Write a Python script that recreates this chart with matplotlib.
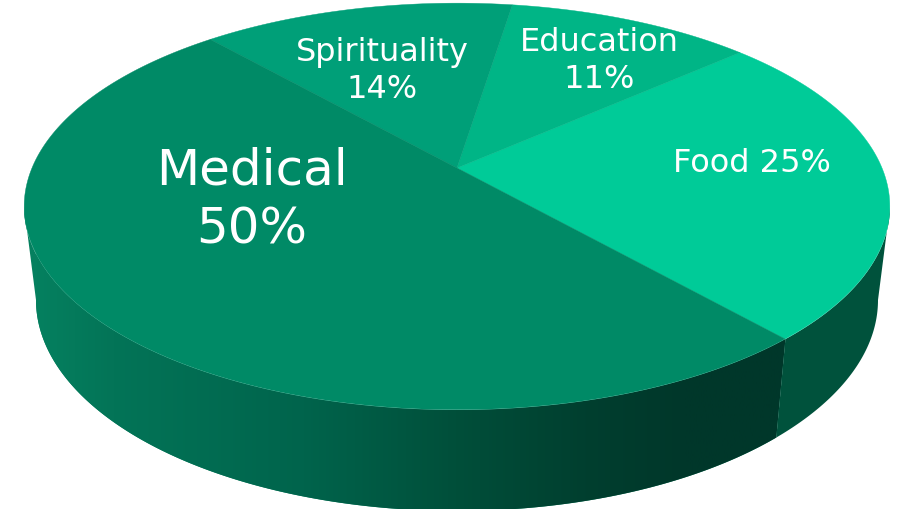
import numpy as np
import matplotlib
matplotlib.use('Agg')
import matplotlib.pyplot as plt
from matplotlib.colors import LinearSegmentedColormap
from matplotlib.patches import Polygon

categories = ['Food', 'Education', 'Spirituality', 'Medical']
values = [25, 11, 14, 50]
colors = ['#00CB98', '#00B586', '#009F78', '#008A66']

# pixel geometry of the tilted disc
CX, CY, A, B = 457, 207.5, 433, 203.5
APEX_Y = 169
BX, BY, BA, BB = 457, 301, 421, 211
START = -48.5
Q = 0.189
P = 196.0
AP = 425.0


def project(theta):
	# disc angle -> screen point, apex of the slices is off the ellipse centre
	x = np.cos(theta)
	y = np.sin(theta)
	d = 1 + Q*y
	return CX + AP*x/d, APEX_Y - P*y/d


def ell_param(theta):
	X, Y = project(theta)
	return np.arctan2((CY - Y)/B, (X - CX)/A)


fig = plt.figure(figsize=(9.0, 5.1), dpi=100)
ax = fig.add_axes([0, 0, 1, 1])
ax.axis('off')

edges = np.radians(START + np.cumsum([0] + values)*3.6)

# side wall: same ellipse parameter on the top and bottom rims
t_split = ell_param(edges[0])
t = np.linspace(np.pi, 2*np.pi + t_split, 300)
top = np.c_[CX + A*np.cos(t), CY - B*np.sin(t)]
bot = np.c_[BX + BA*np.cos(t), BY - BB*np.sin(t)]
wall = np.vstack([top, bot[::-1]])
cmap = LinearSegmentedColormap.from_list('wall', [
	(0.0, '#05805F'), (0.1, '#037457'), (0.35, '#00644C'), (0.55, '#004F3A'),
	(0.72, '#003F2F'), (0.85, '#00372A'), (1.0, '#00372A')])
img = ax.imshow(np.linspace(0, 1, 256)[None, :], extent=[36, 800, 510, 0], cmap=cmap, aspect='auto', zorder=1)
patch = Polygon(wall, closed=True, transform=ax.transData, fc='none', ec='none')
ax.add_patch(patch)
img.set_clip_path(patch)
ax.fill(wall[:, 0], wall[:, 1], color='#05805F', zorder=0.5, lw=0)

t2 = np.linspace(t_split, 0, 80)
top2 = np.c_[CX + A*np.cos(t2), CY - B*np.sin(t2)]
bot2 = np.c_[BX + BA*np.cos(t2), BY - BB*np.sin(t2)]
wall2 = np.vstack([top2, bot2[::-1]])
ax.fill(wall2[:, 0], wall2[:, 1], color='#00523C', zorder=2, lw=0)

# top face
for i in range(len(values)):
	th = np.linspace(edges[i], edges[i+1], 200)
	px, py = project(th)
	ax.fill(np.r_[CX, px], np.r_[APEX_Y, py], color=colors[i], zorder=3, lw=0.3)

ax.set_xlim(0, 900)
ax.set_ylim(510, 0)

labels = ['%s %d%%' % (categories[0], values[0])] + ['%s\n%d%%' % (c, v) for c, v in zip(categories[1:], values[1:])]
label_x = [752, 599, 382, 252]
label_y = [164, 61, 71, 200]
label_size = [23, 23, 23, 36]
for s, x, y, fs in zip(labels, label_x, label_y, label_size):
	ax.text(x, y, s, color='white', ha='center', va='center', fontsize=fs, family='DejaVu Sans', fontweight='normal', linespacing=1.28, zorder=4)

fig.savefig('out.png', dpi=100)
